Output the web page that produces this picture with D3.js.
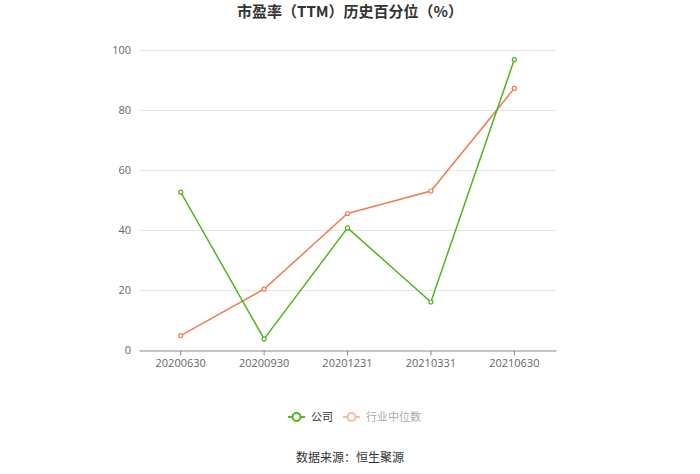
<!DOCTYPE html>
<html>
<head>
<meta charset="utf-8">
<script src="https://cdn.jsdelivr.net/npm/d3@7"></script>
<style>
  body { margin: 0; background: #fff; }
  svg { display: block; font-family: "Noto Sans CJK SC", "Noto Sans", sans-serif; }
</style>
</head>
<body>
<svg width="700" height="474"></svg>
<script>
const categories = ["20200630", "20200930", "20201231", "20210331", "20210630"];
const company = [52.6, 3.7, 40.7, 16.0, 96.8];
const industry = [4.8, 20.3, 45.5, 53.0, 87.2];
const yTicks = [0, 20, 40, 60, 80, 100];

const svg = d3.select("svg");
const margin = { top: 50, right: 144, bottom: 124, left: 139 };
const width = 700, height = 474;

const green = "#52b51e";
const orange = "#ef7d4e";

// scales
const x = d3.scaleBand()
    .domain(categories)
    .range([margin.left, width - margin.right]);

const y = d3.scaleLinear()
    .domain([0, 100])
    .range([height - margin.bottom, margin.top]);

const cx = d => x(d) + x.bandwidth() / 2;

// title
svg.append("text")
    .attr("x", width / 2)
    .attr("y", 17)
    .attr("text-anchor", "middle")
    .attr("font-size", 15)
    .attr("font-weight", "bold")
    .attr("fill", "#333")
    .text("市盈率（TTM）历史百分位（%）");

// grid
svg.append("g")
    .selectAll("line")
    .data(yTicks.filter(t => t > 0))
    .enter().append("line")
    .attr("x1", margin.left)
    .attr("x2", width - margin.right)
    .attr("y1", d => y(d) + 0.5)
    .attr("y2", d => y(d) + 0.5)
    .attr("stroke", "#e6e6e6");

// y axis labels
const yAxis = svg.append("g")
    .attr("transform", `translate(${margin.left - 8},0)`)
    .call(d3.axisLeft(y).tickValues(yTicks).tickSize(0).tickPadding(0));
yAxis.select(".domain").remove();
yAxis.selectAll("text")
    .attr("fill", "#666")
    .attr("font-size", 11)
    .style("font-family", "'Open Sans', 'Noto Sans', sans-serif");

// x axis
const xAxis = svg.append("g")
    .attr("transform", `translate(0,${y(0) + 0.5})`)
    .call(d3.axisBottom(x).tickSize(5).tickSizeOuter(0).tickPadding(4));
xAxis.select(".domain").attr("stroke", "#888");
xAxis.selectAll(".tick line").attr("stroke", "#888");
xAxis.selectAll("text")
    .attr("fill", "#666")
    .attr("font-size", 11)
    .style("font-family", "'Open Sans', 'Noto Sans', sans-serif");

// lines
const line = d3.line()
    .x((d, i) => cx(categories[i]))
    .y(d => y(d));

function drawSeries(values, color) {
    svg.append("path")
        .datum(values)
        .attr("fill", "none")
        .attr("stroke", color)
        .attr("stroke-width", 1.5)
        .attr("d", line);
    svg.append("g")
        .selectAll("circle")
        .data(values)
        .enter().append("circle")
        .attr("cx", (d, i) => cx(categories[i]))
        .attr("cy", d => y(d))
        .attr("r", 2)
        .attr("fill", "#fff")
        .attr("stroke", color)
        .attr("stroke-width", 1.2);
}

drawSeries(industry, orange);
drawSeries(company, green);

// legend
const legend = [
    { name: "公司", color: green, text: "#333", x: 288 },
    { name: "行业中位数", color: "#f5bda5", text: "#aaa", x: 343 }
];
const lg = svg.append("g").attr("transform", "translate(0,417)");
legend.forEach(l => {
    lg.append("line")
        .attr("x1", l.x).attr("x2", l.x + 17)
        .attr("stroke", l.color).attr("stroke-width", 2);
    lg.append("circle")
        .attr("cx", l.x + 8.5).attr("r", 4)
        .attr("fill", "#fff").attr("stroke", l.color).attr("stroke-width", 2);
    lg.append("text")
        .attr("x", l.x + 23).attr("dy", "0.35em")
        .attr("font-size", 11).attr("fill", l.text)
        .text(l.name);
});

// source
svg.append("text")
    .attr("x", width / 2)
    .attr("y", 462)
    .attr("text-anchor", "middle")
    .attr("font-size", 12)
    .attr("fill", "#333")
    .text("数据来源：恒生聚源");
</script>
</body>
</html>
